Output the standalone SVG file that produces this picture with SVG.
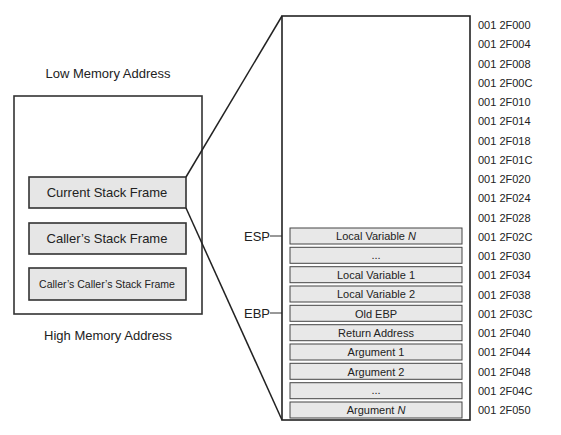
<svg xmlns="http://www.w3.org/2000/svg" width="561" height="435" viewBox="0 0 561 435">
<style>
text{font-family:"Liberation Sans",Arial,sans-serif;fill:#222}
.lbl{font-size:13px;text-anchor:middle}
.fr{fill:#e6e6e6;stroke:#333;stroke-width:1.6}
.fl{font-size:13px;text-anchor:middle}
.sl{fill:#e8e8e8;stroke:#444;stroke-width:1}
.st{font-size:11px;text-anchor:middle}
.ad{font-size:11px}
.ln{fill:none;stroke:#222;stroke-width:1.5}
</style>
<rect width="561" height="435" fill="#fff"/>
<g id="memory">
<text class="lbl" x="108" y="78">Low Memory Address</text>
<rect x="14" y="96" width="188" height="218" fill="#fff" stroke="#333" stroke-width="1.6"/>
<text class="lbl" x="108" y="340">High Memory Address</text>
</g>
<g id="current-frame"><rect class="fr" x="29" y="177" width="157" height="31"/><text class="fl" x="107" y="197">Current Stack Frame</text></g>
<g id="caller-frame"><rect class="fr" x="29" y="223" width="157" height="31"/><text class="fl" x="107" y="243">Caller’s Stack Frame</text></g>
<g id="caller-caller-frame"><rect class="fr" x="29" y="268" width="157" height="32"/><text class="st" x="107" y="288" style="font-size:10.5px">Caller’s Caller’s Stack Frame</text></g>
<g id="connectors">
<line class="ln" x1="186" y1="177" x2="282" y2="16"/>
<line class="ln" x1="186" y1="208" x2="282" y2="420"/>
<line x1="270" y1="236" x2="290" y2="236" stroke="#333" stroke-width="1"/>
<line x1="270" y1="313" x2="290" y2="313" stroke="#333" stroke-width="1"/>
</g>
<g id="stack">
<rect x="282" y="16" width="188" height="404" fill="#fff" stroke="#222" stroke-width="1.6"/>
</g>
<g id="esp"><text class="lbl" x="257" y="241">ESP</text></g>
<g id="ebp"><text class="lbl" x="257" y="318">EBP</text></g>
<g id="slots">
<rect class="sl" x="290" y="228" width="172" height="16"/><text class="st" x="376" y="240">Local Variable <tspan font-style="italic">N</tspan></text>
<rect class="sl" x="290" y="247.3" width="172" height="16"/><text class="st" x="376" y="259">...</text>
<rect class="sl" x="290" y="266.7" width="172" height="16"/><text class="st" x="376" y="279">Local Variable 1</text>
<rect class="sl" x="290" y="286" width="172" height="16"/><text class="st" x="376" y="298">Local Variable 2</text>
<rect class="sl" x="290" y="305.3" width="172" height="16"/><text class="st" x="376" y="317.5">Old EBP</text>
<rect class="sl" x="290" y="324.7" width="172" height="16"/><text class="st" x="376" y="337">Return Address</text>
<rect class="sl" x="290" y="344" width="172" height="16"/><text class="st" x="376" y="356">Argument 1</text>
<rect class="sl" x="290" y="363.3" width="172" height="16"/><text class="st" x="376" y="375.5">Argument 2</text>
<rect class="sl" x="290" y="382.7" width="172" height="16"/><text class="st" x="376" y="394">...</text>
<rect class="sl" x="290" y="402" width="172" height="16"/><text class="st" x="376" y="414">Argument <tspan font-style="italic">N</tspan></text>
</g>
<g id="addresses">
<text class="ad" x="478" y="29">001 2F000</text>
<text class="ad" x="478" y="48.3">001 2F004</text>
<text class="ad" x="478" y="67.5">001 2F008</text>
<text class="ad" x="478" y="86.8">001 2F00C</text>
<text class="ad" x="478" y="106">001 2F010</text>
<text class="ad" x="478" y="125.3">001 2F014</text>
<text class="ad" x="478" y="144.5">001 2F018</text>
<text class="ad" x="478" y="163.8">001 2F01C</text>
<text class="ad" x="478" y="183">001 2F020</text>
<text class="ad" x="478" y="202.3">001 2F024</text>
<text class="ad" x="478" y="221.5">001 2F028</text>
<text class="ad" x="478" y="240.8">001 2F02C</text>
<text class="ad" x="478" y="260">001 2F030</text>
<text class="ad" x="478" y="279.3">001 2F034</text>
<text class="ad" x="478" y="298.5">001 2F038</text>
<text class="ad" x="478" y="317.8">001 2F03C</text>
<text class="ad" x="478" y="337">001 2F040</text>
<text class="ad" x="478" y="356.3">001 2F044</text>
<text class="ad" x="478" y="375.5">001 2F048</text>
<text class="ad" x="478" y="394.8">001 2F04C</text>
<text class="ad" x="478" y="414">001 2F050</text>
</g>
</svg>
